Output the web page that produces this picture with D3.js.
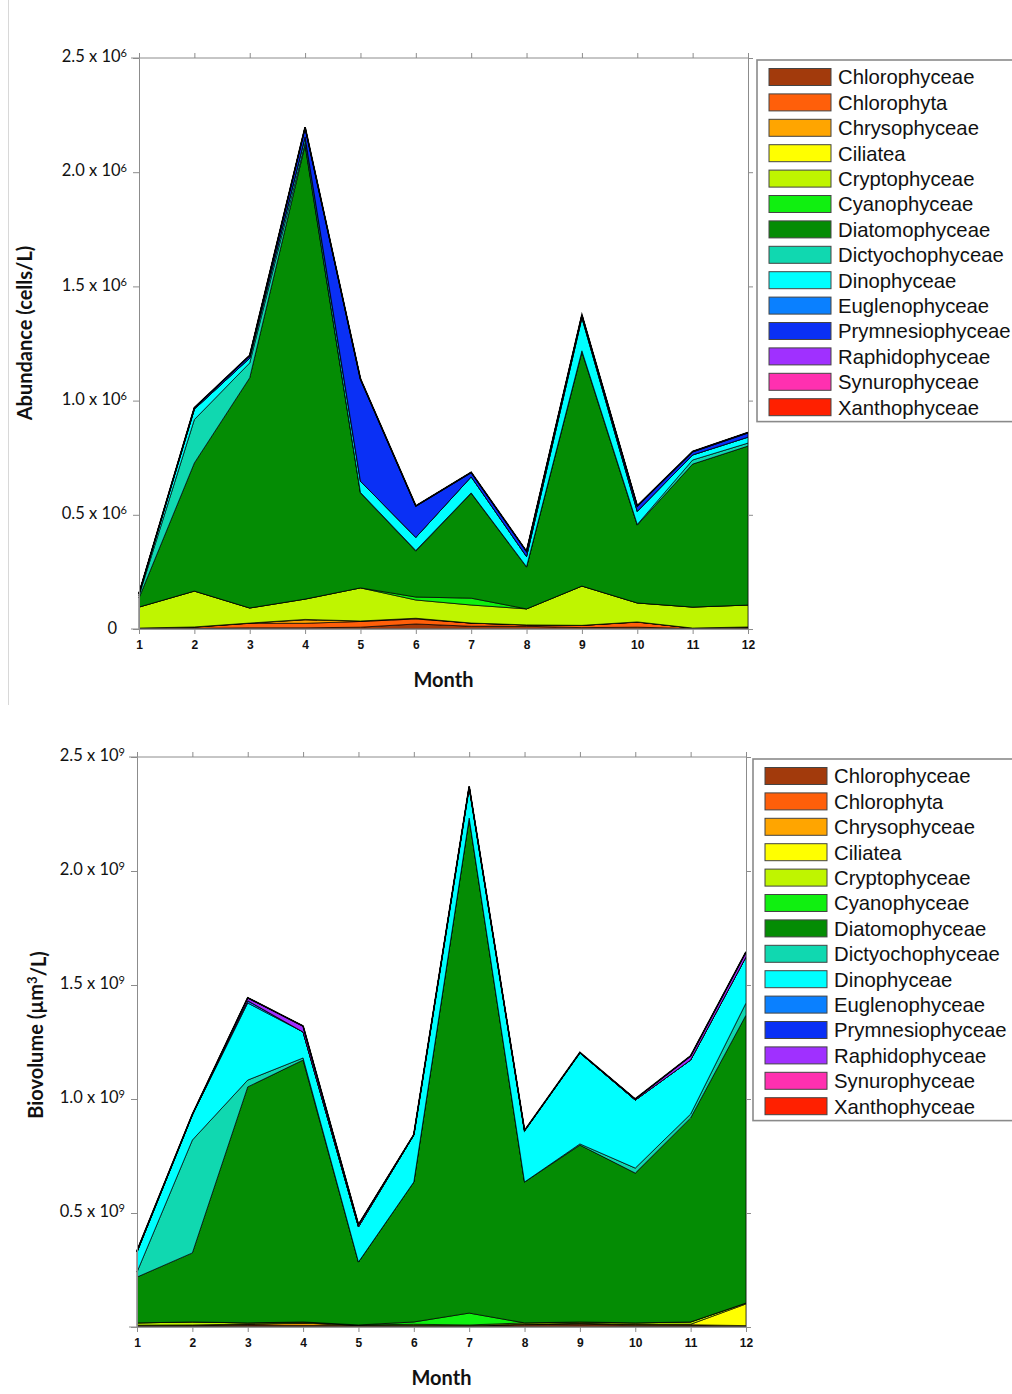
<!DOCTYPE html>
<html>
<head>
<meta charset="utf-8">
<script src="https://cdn.jsdelivr.net/npm/d3@7"></script>
<style>
  body { margin: 0; background: #fff; }
  svg { display: block; }
  .tick text { fill: #111; }
</style>
</head>
<body>
<div id="chart"></div>
<script>
// months on the x axis
var months = [1, 2, 3, 4, 5, 6, 7, 8, 9, 10, 11, 12];

// classes, bottom to top of the stack (same as legend order)
var groups = ["Chlorophyceae", "Chlorophyta", "Chrysophyceae", "Ciliatea", "Cryptophyceae",
  "Cyanophyceae", "Diatomophyceae", "Dictyochophyceae", "Dinophyceae", "Euglenophyceae",
  "Prymnesiophyceae", "Raphidophyceae", "Synurophyceae", "Xanthophyceae"];
var groupColors = ["#a23a0c", "#ff5f0a", "#ffa500", "#ffff00", "#bff500",
  "#10f010", "#048c04", "#10d8b0", "#00ffff", "#0a80ff",
  "#0a30f5", "#a030ff", "#ff30b0", "#ff2000"];

// abundance, x 10^3 cells/L
var abChlorophyceae    = [2, 3, 5, 5, 8, 22, 12, 12, 6, 8, 2, 4];
var abChlorophyta      = [2, 5, 20, 20, 25, 22, 14, 6, 10, 22, 2, 4];
var abChrysophyceae    = [0, 1, 1, 15, 2, 3, 0, 0, 0, 1, 0, 1];
var abCiliatea         = [0, 0, 0, 2, 0, 0, 0, 0, 0, 0, 0, 0];
var abCryptophyceae    = [92, 157, 66, 89, 145, 80, 79, 70, 172, 83, 92, 96];
var abCyanophyceae     = [0, 0, 0, 0, 0, 13, 30, 0, 0, 0, 0, 0];
var abDiatomophyceae   = [40, 561, 1008, 1988, 415, 201, 459, 183, 1025, 341, 626, 696];
var abDictyochophyceae = [10, 190, 65, 10, 3, 3, 2, 2, 5, 3, 18, 13];
var abDinophyceae      = [8, 45, 21, 25, 49, 57, 70, 44, 145, 57, 22, 26];
var abEuglenophyceae   = [0, 0, 0, 0, 0, 0, 0, 0, 0, 0, 0, 0];
var abPrymnesiophyceae = [2, 5, 10, 40, 446, 136, 18, 22, 10, 22, 13, 18];
var abRaphidophyceae   = [0, 2, 2, 3, 2, 2, 2, 1, 2, 2, 2, 2];
var abSynurophyceae    = [0, 0, 0, 0, 0, 0, 0, 0, 0, 0, 0, 0];
var abXanthophyceae    = [0, 0, 0, 0, 0, 0, 0, 0, 0, 0, 0, 0];

// biovolume, x 10^6 um3/L
var bvChlorophyceae    = [3, 3, 5, 4, 5, 3, 3, 5, 6, 4, 4, 2];
var bvChlorophyta      = [2, 2, 4, 3, 2, 2, 2, 5, 6, 4, 3, 2];
var bvChrysophyceae    = [2, 3, 3, 10, 1, 2, 1, 2, 3, 3, 3, 2];
var bvCiliatea         = [1, 1, 1, 1, 0, 0, 0, 0, 1, 1, 2, 95];
var bvCryptophyceae    = [10, 13, 5, 4, 1, 5, 3, 6, 6, 6, 10, 4];
var bvCyanophyceae     = [0, 0, 0, 0, 0, 10, 52, 0, 0, 0, 0, 0];
var bvDiatomophyceae   = [201, 303, 1035, 1149, 276, 614, 2171, 618, 776, 657, 895, 1263];
var bvDictyochophyceae = [22, 495, 30, 9, 0, 0, 0, 0, 5, 22, 17, 53];
var bvDinophyceae      = [88, 110, 338, 114, 154, 206, 136, 224, 399, 298, 237, 202];
var bvEuglenophyceae   = [0, 0, 10, 0, 0, 0, 0, 0, 0, 0, 0, 0];
var bvPrymnesiophyceae = [0, 0, 0, 0, 0, 0, 0, 0, 0, 0, 0, 0];
var bvRaphidophyceae   = [5, 3, 13, 26, 10, 2, 2, 2, 2, 5, 18, 22];
var bvSynurophyceae    = [0, 0, 0, 0, 0, 0, 0, 0, 0, 0, 0, 0];
var bvXanthophyceae    = [0, 0, 0, 0, 0, 0, 0, 0, 0, 0, 0, 0];

// y tick labels (mantissa, the exponent is added per panel)
var abTickValues = [0, 0.5, 1.0, 1.5, 2.0, 2.5];
var abTickLabels = ["0", "0.5", "1.0", "1.5", "2.0", "2.5"];
var bvTickValues = [0.5, 1.0, 1.5, 2.0, 2.5];
var bvTickLabels = ["0.5", "1.0", "1.5", "2.0", "2.5"];

var abSeries = [abChlorophyceae, abChlorophyta, abChrysophyceae, abCiliatea, abCryptophyceae,
  abCyanophyceae, abDiatomophyceae, abDictyochophyceae, abDinophyceae, abEuglenophyceae,
  abPrymnesiophyceae, abRaphidophyceae, abSynurophyceae, abXanthophyceae];
var bvSeries = [bvChlorophyceae, bvChlorophyta, bvChrysophyceae, bvCiliatea, bvCryptophyceae,
  bvCyanophyceae, bvDiatomophyceae, bvDictyochophyceae, bvDinophyceae, bvEuglenophyceae,
  bvPrymnesiophyceae, bvRaphidophyceae, bvSynurophyceae, bvXanthophyceae];

var W = 1012, H = 1394;
var svg = d3.select("#chart").append("svg")
  .attr("width", W)
  .attr("height", H);

// faint frame line left by the screenshot
svg.append("line")
  .attr("x1", 8.5).attr("x2", 8.5).attr("y1", 0).attr("y2", 705)
  .attr("stroke", "#d8d8d8").attr("stroke-width", 1);

var axisColor = "#8c8c8c";
var tickFont = "Lato, 'Open Sans', sans-serif";

function drawPanel(cfg) {
  // build a table for d3.stack: unit -> absolute values
  var table = months.map(function(m, i) {
    var row = { month: m };
    groups.forEach(function(g, j) { row[g] = cfg.series[j][i] * cfg.unit; });
    return row;
  });

  var x = d3.scaleLinear().domain([1, 12]).range([cfg.left, cfg.right]);
  var y = d3.scaleLinear().domain([0, 2.5 * cfg.exp]).range([cfg.bottom, cfg.top]);

  var stacked = d3.stack().keys(groups)(table);

  var area = d3.area()
    .x(function(d) { return x(d.data.month); })
    .y0(function(d) { return y(d[0]); })
    .y1(function(d) { return y(d[1]); });

  var g = svg.append("g");

  g.selectAll("path.layer")
    .data(stacked)
    .enter()
    .append("path")
    .attr("class", "layer")
    .attr("d", area)
    .attr("fill", function(d, i) { return groupColors[i]; })
    .attr("stroke", "#000")
    .attr("stroke-width", 0.7)
    .attr("stroke-linejoin", "miter");

  // heavier outline on the total
  var topLine = d3.line()
    .x(function(d) { return x(d.data.month); })
    .y(function(d) { return y(d[1]); });
  g.append("path")
    .attr("d", topLine(stacked[stacked.length - 1]))
    .attr("fill", "none")
    .attr("stroke", "#000")
    .attr("stroke-width", 1.6);

  // left axis
  var yAxis = d3.axisLeft(y)
    .tickValues(cfg.tickValues.map(function(v) { return v * cfg.exp; }))
    .tickSize(6)
    .tickPadding(10)
    .tickFormat("");
  var ya = g.append("g")
    .attr("transform", "translate(" + cfg.left + ",0)")
    .call(yAxis);
  ya.selectAll(".domain, .tick line").attr("stroke", axisColor);
  ya.selectAll(".tick").each(function(d, i) {
    var t = d3.select(this).append("text")
      .attr("x", -12)
      .attr("y", -2)
      .attr("dy", "0.35em")
      .attr("text-anchor", "end")
      .attr("fill", "#111")
      .style("font-family", tickFont)
      .style("font-size", "16.5px");
    var lab = cfg.tickLabels[i];
    if (lab === "0") {
      t.text("0").attr("x", -22).attr("y", -1);
    } else {
      t.append("tspan").text(lab + " x 10");
      t.append("tspan").attr("dy", "-0.45em").style("font-size", "11px").text(cfg.expLabel);
    }
  });

  // right frame with outward ticks
  var ra = g.append("g")
    .attr("transform", "translate(" + cfg.right + ",0)")
    .call(d3.axisRight(y)
      .tickValues(cfg.tickValues.map(function(v) { return v * cfg.exp; }))
      .tickSize(5).tickFormat(""));
  ra.selectAll(".domain, .tick line").attr("stroke", axisColor);

  // top frame with upward ticks
  var ta = g.append("g")
    .attr("transform", "translate(0," + cfg.top + ")")
    .call(d3.axisTop(x).tickValues(months).tickSize(5).tickSizeOuter(0).tickFormat(""));
  ta.selectAll(".domain, .tick line").attr("stroke", axisColor);
  ta.selectAll(".domain").attr("d", "M" + (cfg.left - 8) + ",0H" + cfg.right);

  // bottom axis
  var xa = g.append("g")
    .attr("transform", "translate(0," + cfg.bottom + ")")
    .call(d3.axisBottom(x).tickValues(months).tickSize(5).tickSizeOuter(0).tickPadding(6)
      .tickFormat(d3.format("d")));
  xa.selectAll(".domain, .tick line").attr("stroke", axisColor);
  xa.selectAll(".domain").attr("d", "M" + (cfg.left - 8) + ",0H" + cfg.right);
  xa.selectAll(".tick text")
    .style("font-family", "Arial, 'Liberation Sans', sans-serif")
    .style("font-size", "12px")
    .style("font-weight", "bold")
    .attr("fill", "#222");

  // axis titles
  g.append("text")
    .attr("x", (cfg.left + cfg.right) / 2)
    .attr("y", cfg.bottom + 51)
    .attr("dy", "0.35em")
    .attr("text-anchor", "middle")
    .style("font-family", tickFont)
    .style("font-size", "20px")
    .style("font-weight", "bold")
    .attr("fill", "#111")
    .text("Month");

  var yt = g.append("text")
    .attr("transform", "translate(" + cfg.titleX + "," + cfg.titleY + ") rotate(-90)")
    .attr("text-anchor", "middle")
    .attr("dy", "0.35em")
    .style("font-family", tickFont)
    .style("font-size", "20px")
    .style("font-weight", "bold")
    .attr("fill", "#111");
  cfg.title.forEach(function(part) {
    var ts = yt.append("tspan").text(part.t);
    if (part.sup) ts.attr("dy", "-0.45em").style("font-size", "13px");
    if (part.after) ts.attr("dy", "0.45em");
  });

  // legend
  var rowH = 25.4;
  var lg = svg.append("g");
  lg.append("rect")
    .attr("x", cfg.legX)
    .attr("y", cfg.legY)
    .attr("width", W - cfg.legX + 5)
    .attr("height", rowH * groups.length + 6)
    .attr("fill", "#fff")
    .attr("stroke", "#8a8a8a")
    .attr("stroke-width", 1.6);
  var rows = lg.selectAll("g.row")
    .data(groups)
    .enter()
    .append("g")
    .attr("class", "row")
    .attr("transform", function(d, i) {
      return "translate(" + (cfg.legX + 12) + "," + (cfg.legY + 17 + i * rowH) + ")";
    });
  rows.append("rect")
    .attr("x", 0).attr("y", -8.5)
    .attr("width", 62).attr("height", 17)
    .attr("fill", function(d, i) { return groupColors[i]; })
    .attr("stroke", "#444")
    .attr("stroke-width", 1);
  rows.append("text")
    .attr("x", 69)
    .attr("y", 0)
    .attr("dy", "0.36em")
    .style("font-family", "Arial, 'Liberation Sans', sans-serif")
    .style("font-size", "20.3px")
    .attr("fill", "#111")
    .text(function(d) { return d; });
}

drawPanel({
  series: abSeries, unit: 1e3, exp: 1e6, expLabel: "6",
  tickValues: abTickValues, tickLabels: abTickLabels,
  left: 139, right: 748, top: 58, bottom: 629,
  titleX: 25, titleY: 333,
  title: [{ t: "Abundance (cells/L)" }],
  legX: 757, legY: 60
});

drawPanel({
  series: bvSeries, unit: 1e6, exp: 1e9, expLabel: "9",
  tickValues: bvTickValues, tickLabels: bvTickLabels,
  left: 137, right: 746, top: 757, bottom: 1327,
  titleX: 36, titleY: 1035,
  title: [{ t: "Biovolume (\u00b5m" }, { t: "3", sup: true }, { t: "/L)", after: true }],
  legX: 753, legY: 759
});
</script>
</body>
</html>
